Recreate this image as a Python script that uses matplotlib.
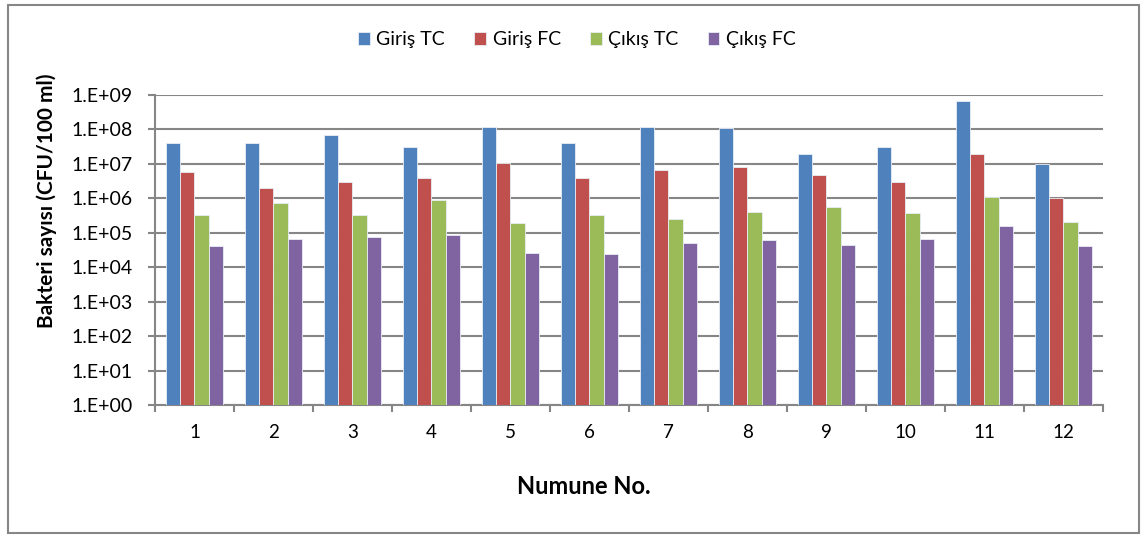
import numpy as np
import matplotlib.pyplot as plt
from matplotlib.patches import Rectangle

plt.rcParams['font.family'] = ['Lato', 'DejaVu Sans']

# Bacteria counts (CFU/100 ml) per sample
samples = ['1', '2', '3', '4', '5', '6', '7', '8', '9', '10', '11', '12']
giris_tc = [4.1e7, 4.1e7, 7.1e7, 3.0e7, 1.2e8, 4.1e7, 1.2e8, 1.1e8, 2.0e7, 3.0e7, 6.8e8, 1.0e7]
giris_fc = [6.0e6, 2.0e6, 3.0e6, 3.9e6, 1.07e7, 3.9e6, 6.8e6, 8.0e6, 4.9e6, 3.0e6, 1.9e7, 1.0e6]
cikis_tc = [3.2e5, 7.1e5, 3.2e5, 9.0e5, 1.9e5, 3.3e5, 2.5e5, 4.1e5, 5.5e5, 3.7e5, 1.07e6, 2.1e5]
cikis_fc = [4.2e4, 6.5e4, 7.8e4, 8.7e4, 2.6e4, 2.5e4, 5.2e4, 6.0e4, 4.5e4, 6.5e4, 1.6e5, 4.0e4]

series = [
    ('Giriş TC', giris_tc, '#4F81BD'),
    ('Giriş FC', giris_fc, '#C0504D'),
    ('Çıkış TC', cikis_tc, '#9BBB59'),
    ('Çıkış FC', cikis_fc, '#8064A2'),
]

fig = plt.figure(figsize=(11.47, 5.38), dpi=100)
ax = fig.add_axes([0.1351, 0.2472, 0.8265, 0.5762])

x = np.arange(len(samples))
w = 0.18
for i, (name, vals, col) in enumerate(series):
    ax.bar(x + (i - 1.5) * w, vals, width=w, color=col, label=name,
           edgecolor='#E8EEF6', linewidth=0.6, zorder=3)

ax.set_yscale('log')
ax.set_ylim(1, 1e9)
ax.set_xlim(-0.5, len(samples) - 0.5)
yt = [10.0 ** k for k in range(10)]
ax.set_yticks(yt)
ax.set_yticklabels(['1.E+%02d' % k for k in range(10)], fontsize=14)
ax.minorticks_off()
ax.grid(axis='y', color='#868686', linewidth=1.5, zorder=0)

# category labels at centres, tick marks at group boundaries
ax.set_xticks(x)
ax.set_xticklabels(samples, fontsize=13.5)
ax.tick_params(axis='x', length=0, pad=14)
ax.set_xticks(np.arange(-0.5, len(samples)), minor=True)
ax.tick_params(axis='x', which='minor', length=5, width=1.5, color='#868686')
ax.tick_params(axis='y', length=5, width=1.5, color='#868686', pad=11)

for s in ['top', 'right']:
    ax.spines[s].set_visible(False)
for s in ['left', 'bottom']:
    ax.spines[s].set_color('#868686')
    ax.spines[s].set_linewidth(1.5)

ax.set_ylabel('Bakteri sayısı (CFU/100 ml)', fontsize=15, fontweight='bold')
ax.yaxis.set_label_coords(-0.103, 0.66)
ax.set_xlabel('Numune No.', fontsize=17, fontweight='bold')
ax.xaxis.set_label_coords(0.4525, -0.225)

fig.legend(loc='center', bbox_to_anchor=(0.503, 0.926), ncol=4, frameon=False,
           fontsize=14, handlelength=0.6, handleheight=0.6, handletextpad=0.35,
           columnspacing=1.5)

# chart border
fig.patches.append(Rectangle((0.007, 0.01), 0.986, 0.98, transform=fig.transFigure,
                             fill=False, edgecolor='#868686', linewidth=1.5))

fig.savefig('out.png', dpi=100)
